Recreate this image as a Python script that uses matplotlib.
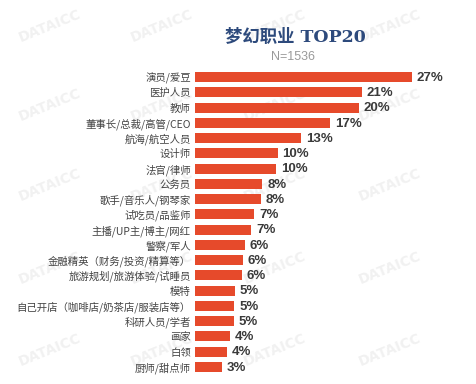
import matplotlib
matplotlib.use("Agg")
import matplotlib.pyplot as plt

plt.rcParams['font.family'] = ['Noto Sans CJK SC', 'DejaVu Sans']

# 数据
jobs = [
    "演员/爱豆", "医护人员", "教师", "董事长/总裁/高管/CEO", "航海/航空人员",
    "设计师", "法官/律师", "公务员", "歌手/音乐人/钢琴家", "试吃员/品鉴师",
    "主播/UP主/博主/网红", "警察/军人", "金融精英（财务/投资/精算等）",
    "旅游规划/旅游体验/试睡员", "模特", "自己开店（咖啡店/奶茶店/服装店等）",
    "科研人员/学者", "画家", "白领", "厨师/甜点师",
]
shares = [27.0, 20.8, 20.4, 16.8, 13.2, 10.3, 10.1, 8.4, 8.2, 7.4,
          7.0, 6.2, 6.0, 5.8, 5.0, 4.9, 4.8, 4.4, 4.0, 3.4]

W, H = 476, 384
fig = plt.figure(figsize=(W / 100, H / 100), dpi=100)
fig.patch.set_facecolor("white")

# 水印（很淡，放在最底层）
for yc in [26, 105, 185, 268, 350]:
    for xc in [50, 162, 275, 390]:
        fig.text(xc / W, 1 - yc / H, "DATAICC", fontsize=10, fontweight="bold",
                 color="#f1f1f1", rotation=22, ha="center", va="center",
                 family="DejaVu Sans", zorder=-5)

ax = fig.add_axes([195 / W, 1 - 374.6 / H, (W - 195) / W, 305.2 / H])
ax.set_facecolor("none")
ax.set_zorder(2)
pos = list(range(len(jobs)))
ax.barh(pos, shares, height=0.66, color="#e64a2b", zorder=2)
ax.set_ylim(len(jobs) - 0.5, -0.5)
ax.set_xlim(0, 35)
ax.set_yticks(pos)
ax.set_yticklabels(jobs, fontsize=7.5, color="#444444")
ax.tick_params(axis="y", length=0, pad=3)
ax.set_xticks([])
for s in ax.spines.values():
    s.set_visible(False)

for p, v in zip(pos, shares):
    ax.text(v + 0.6, p + 0.05, f"{round(v)}%", fontsize=9.5, fontweight="bold",
            color="#3a3a3a", va="center", ha="left", family="Liberation Sans")

fig.text(295 / W, 1 - 37 / H, "梦幻职业 TOP20", fontsize=12.5, fontweight="bold",
         color="#2d4a7c", ha="center", va="center",
         family=["DejaVu Serif", "Noto Sans CJK SC"])
fig.text(293 / W, 1 - 57 / H, "N=1536", fontsize=9, color="#9a9a9a",
         ha="center", va="center", family="Liberation Sans")

fig.savefig("out.png", dpi=100)
